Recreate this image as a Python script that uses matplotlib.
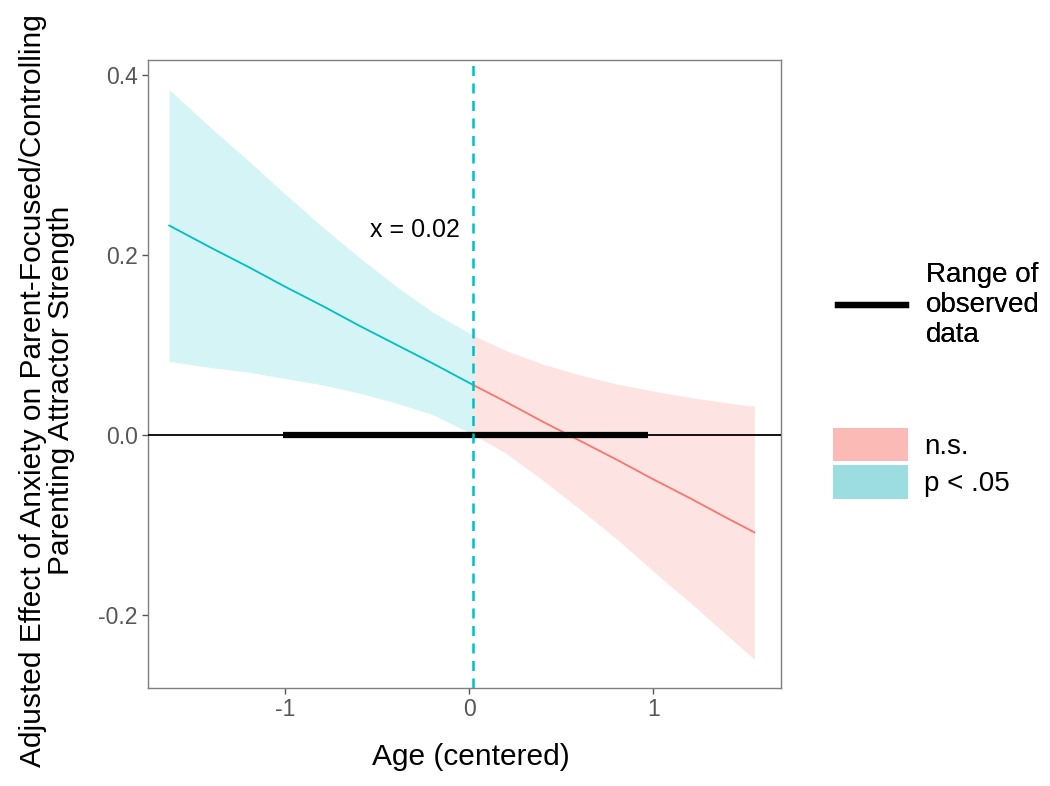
import matplotlib
matplotlib.use('Agg')
import matplotlib.pyplot as plt
from matplotlib.lines import Line2D
from matplotlib.patches import Patch
import numpy as np

plt.rcParams['font.family'] = ['Liberation Sans', 'DejaVu Sans']

# values (Johnson-Neyman plot)
age = [-1.63, -1.4, -1.2, -1.0, -0.8, -0.6, -0.4, -0.2, 0.02,
       0.2, 0.4, 0.6, 0.8, 1.0, 1.2, 1.4, 1.55]
slope_est = [0.233, 0.208, 0.187, 0.165, 0.144, 0.122, 0.101, 0.080, 0.056,
             0.037, 0.015, -0.006, -0.027, -0.049, -0.070, -0.092, -0.108]
ci_upper = [0.384, 0.341, 0.305, 0.268, 0.232, 0.198, 0.166, 0.137, 0.111,
            0.094, 0.079, 0.067, 0.057, 0.049, 0.042, 0.036, 0.032]
ci_lower = [0.082, 0.075, 0.070, 0.063, 0.056, 0.047, 0.036, 0.023, 0.001,
            -0.020, -0.050, -0.082, -0.115, -0.151, -0.186, -0.222, -0.249]
jn_point = 0.02
observed_range = [-1.01, 0.97]
x_ticks = [-1, 0, 1]
y_ticks = [-0.2, 0.0, 0.2, 0.4]

teal = '#00BFC4'
red = '#F8766D'

age = np.array(age)
slope_est = np.array(slope_est)
ci_upper = np.array(ci_upper)
ci_lower = np.array(ci_lower)
sig = age <= jn_point
ns = age >= jn_point

fig = plt.figure(figsize=(10.5, 7.86), dpi=100)
ax = fig.add_axes([0.141, 0.1247, 0.603, 0.799])

# confidence bands
ax.fill_between(age[sig], ci_lower[sig], ci_upper[sig], color=teal, alpha=0.17, lw=0)
ax.fill_between(age[ns], ci_lower[ns], ci_upper[ns], color=red, alpha=0.2, lw=0)

# slope lines
ax.plot(age[sig], slope_est[sig], color=teal, lw=1.3)
ax.plot(age[ns], slope_est[ns], color=red, lw=1.3)

# zero line and observed range
ax.axhline(0, color='black', lw=1.3, zorder=3)
ax.plot(observed_range, [0, 0], color='black', lw=4.5, solid_capstyle='butt', zorder=4)

# JN point
ax.axvline(jn_point, color=teal, lw=1.8, ls=(0, (4, 3)), zorder=5)
ax.text(jn_point - 0.07, 0.228, 'x = ' + str(jn_point), ha='right', va='center', fontsize=18)

ax.set_xlim(-1.745, 1.696)
ax.set_ylim(-0.281, 0.417)
ax.set_xticks(x_ticks)
ax.set_xticklabels([str(t) for t in x_ticks])
ax.set_yticks(y_ticks)
ax.set_yticklabels(['%.1f' % t for t in y_ticks])
ax.tick_params(colors='#555555', labelsize=16.5, length=4, width=1.0)
for s in ax.spines.values():
    s.set_color('#7F7F7F')
    s.set_linewidth(1.0)

ax.set_xlabel('Age (centered)', fontsize=21.5)
ax.xaxis.set_label_coords(0.51, -0.087)
ax.set_ylabel('Adjusted Effect of Anxiety on Parent-Focused/Controlling\nParenting Attractor Strength',
              fontsize=21.5, linespacing=1.0)
ax.yaxis.set_label_coords(-0.115, 0.474)

# legends
leg1 = fig.legend(handles=[Line2D([], [], color='black', lw=4.5)],
                  labels=['Range of\nobserved\ndata'],
                  loc='upper left', bbox_to_anchor=(0.798, 0.667), frameon=False,
                  fontsize=20, handlelength=2.45, handletextpad=0.72,
                  borderpad=0, borderaxespad=0)
fig.add_artist(leg1)
fig.legend(handles=[Patch(facecolor='#FBBAB6', edgecolor='none'),
                    Patch(facecolor='#9BDDE1', edgecolor='none')],
           labels=['n.s.', 'p < .05'],
           loc='upper left', bbox_to_anchor=(0.793, 0.456), frameon=False,
           fontsize=20, handlelength=2.7, handleheight=1.5, handletextpad=0.6,
           labelspacing=0.12, borderpad=0, borderaxespad=0)

fig.savefig('out.png', dpi=100)
